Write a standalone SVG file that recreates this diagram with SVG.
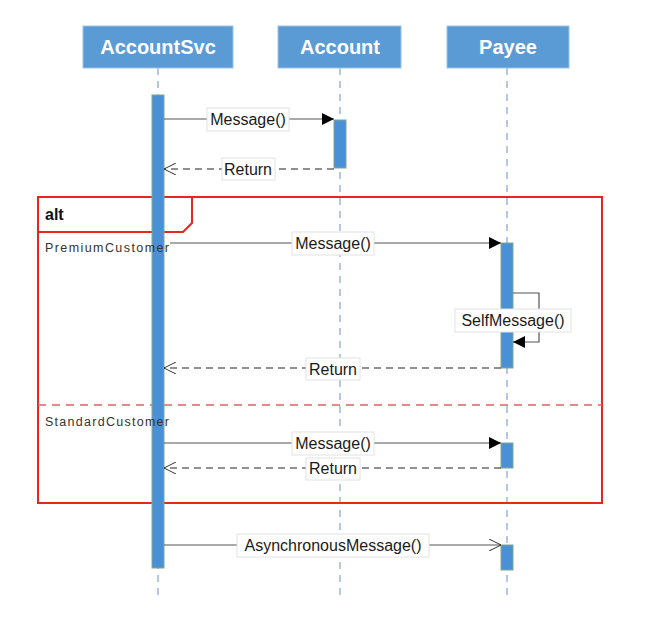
<svg xmlns="http://www.w3.org/2000/svg" width="652" height="627" viewBox="0 0 652 627">
<defs>
<marker id="filled" viewBox="0 0 12 12" refX="12" refY="6" markerWidth="12" markerHeight="12" markerUnits="userSpaceOnUse" orient="auto">
<path d="M0,0 L12,6 L0,12 Z" fill="#000"/>
</marker>
<marker id="open" viewBox="0 0 12 12" refX="12" refY="6" markerWidth="12" markerHeight="12" markerUnits="userSpaceOnUse" orient="auto">
<path d="M0,0 L12,6 L0,12" fill="none" stroke="#333" stroke-width="1"/>
</marker>
</defs>
<style>
.hdr{fill:#5B9BD5;stroke:#9DC3E6;stroke-width:1}
.hdrt{font-family:"Liberation Sans",Arial,sans-serif;font-size:20px;font-weight:bold;fill:#fff;text-anchor:middle}
.life{stroke:#7FA6D6;stroke-width:1.2;stroke-dasharray:7,6;fill:none}
.act{fill:#4A90D6;stroke:#7EA88C;stroke-width:1}
.msg{stroke:#555;stroke-width:1.2;fill:none}
.ret{stroke:#222;stroke-width:1.2;stroke-dasharray:7,5;fill:none}
.lbl{font-family:"Liberation Sans",Arial,sans-serif;font-size:16px;fill:#1a1a1a;text-anchor:middle}
.lbox{fill:#fff;stroke:#e2e2e2;stroke-width:1}
.frame{fill:none;stroke:#E8261C;stroke-width:2}
.guard{font-family:"Liberation Sans",Arial,sans-serif;font-size:12.5px;fill:#333}
</style>
<rect width="652" height="627" fill="#fff"/>
<g id="lifelines">
<line class="life" x1="158" y1="68" x2="158" y2="597"/>
<line class="life" x1="340" y1="68" x2="340" y2="597"/>
<line class="life" x1="507" y1="68" x2="507" y2="597"/>
</g>
<g id="AccountSvc"><rect class="hdr" x="83" y="26" width="150" height="42"/><text class="hdrt" x="158" y="54">AccountSvc</text></g>
<g id="Account"><rect class="hdr" x="278" y="26" width="123" height="42"/><text class="hdrt" x="340" y="54">Account</text></g>
<g id="Payee"><rect class="hdr" x="447" y="26" width="122" height="42"/><text class="hdrt" x="508" y="54">Payee</text></g>
<g id="alt-frame">
<rect x="38" y="197" width="564" height="306" fill="#fff" stroke="none"/>
<rect class="frame" x="38" y="197" width="564" height="306"/>
<path class="frame" d="M38,232 L183,232 L192,223 L192,197"/>
<text x="45" y="220" font-family="Liberation Sans,Arial,sans-serif" font-size="16" font-weight="bold" fill="#111">alt</text>
<line x1="38" y1="405" x2="602" y2="405" stroke="#E06060" stroke-width="1.3" stroke-dasharray="8,6"/>
</g>
<g id="lifelines-over">
<line class="life" x1="340" y1="198" x2="340" y2="502"/>
<line class="life" x1="507" y1="198" x2="507" y2="502"/>
</g>
<g id="activations">
<rect class="act" x="152" y="95" width="12" height="473"/>
<rect class="act" x="334" y="120" width="12" height="48"/>
<rect class="act" x="501" y="243" width="12" height="125"/>
<rect class="act" x="501" y="443" width="12" height="25"/>
<rect class="act" x="501" y="545" width="12" height="25"/>
</g>
<g id="guards">
<text class="guard" x="45" y="252" textLength="124">PremiumCustomer</text>
<text class="guard" x="45" y="426" textLength="124">StandardCustomer</text>
</g>
<g id="connectors">
<line class="msg" x1="164" y1="119" x2="334" y2="119" marker-end="url(#filled)"/>
<line class="ret" x1="334" y1="169" x2="164" y2="169" marker-end="url(#open)"/>
<line class="msg" x1="170" y1="243" x2="501" y2="243" marker-end="url(#filled)"/>
<path class="msg" d="M513,293 L539,293 L539,342 L513,342" marker-end="url(#filled)"/>
<line class="ret" x1="501" y1="368" x2="164" y2="368" marker-end="url(#open)"/>
<line class="msg" x1="164" y1="443" x2="501" y2="443" marker-end="url(#filled)"/>
<line class="ret" x1="501" y1="468" x2="164" y2="468" marker-end="url(#open)"/>
<line class="msg" x1="164" y1="545" x2="501" y2="545" marker-end="url(#open)"/>
</g>
<g id="labels">
<rect class="lbox" x="207" y="108" width="82" height="23"/><text class="lbl" x="248" y="125">Message()</text>
<rect class="lbox" x="222" y="158" width="53" height="22"/><text class="lbl" x="248" y="175">Return</text>
<rect class="lbox" x="292" y="232" width="82" height="23"/><text class="lbl" x="333" y="249">Message()</text>
<rect class="lbox" x="455" y="309" width="116" height="23"/><text class="lbl" x="513" y="326">SelfMessage()</text>
<rect class="lbox" x="306" y="358" width="54" height="22"/><text class="lbl" x="333" y="375">Return</text>
<rect class="lbox" x="292" y="432" width="82" height="23"/><text class="lbl" x="333" y="449">Message()</text>
<rect class="lbox" x="306" y="458" width="54" height="22"/><text class="lbl" x="333" y="474">Return</text>
<rect class="lbox" x="237" y="534" width="192" height="23"/><text class="lbl" x="333" y="551">AsynchronousMessage()</text>
</g>
</svg>
